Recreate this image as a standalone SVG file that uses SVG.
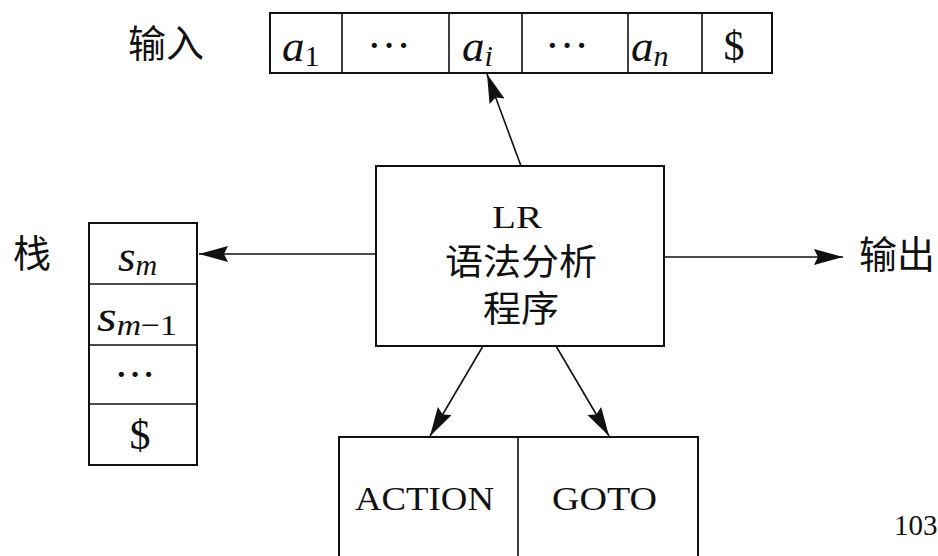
<svg xmlns="http://www.w3.org/2000/svg" width="938" height="556" viewBox="0 0 938 556">
<defs>
<style>
.box{fill:#fff;stroke:#111;stroke-width:2}
.div{stroke:#111;stroke-width:1.6;fill:none}
.edge{stroke:#111;stroke-width:1.6;fill:none}
.cjk{font-family:"Noto Sans CJK SC","Noto Sans CJK JP",sans-serif;font-size:38px;fill:#111}
.cjk2{font-family:"Noto Sans CJK SC","Noto Sans CJK JP",sans-serif;font-size:36px;fill:#111}
.rm{font-family:"Liberation Serif",serif;fill:#111}
.m{font-family:"Liberation Serif",serif;font-style:italic;font-size:45px;fill:#111}
.sub{font-size:30px}
.subr{font-size:30px;font-style:normal}
.dots{font-family:"Liberation Serif",serif;font-size:32px;font-weight:bold;fill:#111}
</style>
<marker id="ah" markerUnits="userSpaceOnUse" markerWidth="30" markerHeight="18" refX="29" refY="8" orient="auto">
<path d="M0,0 L29,8 L0,16 L4,8 z" fill="#111"/>
</marker>
</defs>
<rect width="938" height="556" fill="#fff"/>

<g id="input-label"><text class="cjk" x="128" y="57">输入</text></g>

<g id="tape">
<rect class="box" x="270" y="13" width="502" height="60"/>
<line class="div" x1="342" y1="13" x2="342" y2="73"/>
<line class="div" x1="449" y1="13" x2="449" y2="73"/>
<line class="div" x1="522" y1="13" x2="522" y2="73"/>
<line class="div" x1="628" y1="13" x2="628" y2="73"/>
<line class="div" x1="702" y1="13" x2="702" y2="73"/>
<text class="m" x="282" y="61">a<tspan class="subr" dy="5">1</tspan></text>
<text class="dots" x="389" y="56" text-anchor="middle" textLength="40" lengthAdjust="spacing">· · ·</text>
<text class="m" x="462" y="61">a<tspan class="sub" dy="5">i</tspan></text>
<text class="dots" x="567" y="56" text-anchor="middle" textLength="40" lengthAdjust="spacing">· · ·</text>
<text class="m" x="631" y="61">a<tspan class="sub" dy="5">n</tspan></text>
<text class="rm" x="734" y="60" font-size="42" text-anchor="middle">$</text>
</g>

<g id="stack-label"><text class="cjk" x="13" y="267">栈</text></g>

<g id="stack">
<rect class="box" x="89" y="223" width="108" height="242"/>
<line class="div" x1="89" y1="284" x2="197" y2="284"/>
<line class="div" x1="89" y1="345" x2="197" y2="345"/>
<line class="div" x1="89" y1="404" x2="197" y2="404"/>
<text class="m" x="118" y="271">s<tspan class="sub" dy="4">m</tspan></text>
<text class="m" x="97" y="331" textLength="80" lengthAdjust="spacingAndGlyphs">s<tspan class="sub" dy="4">m</tspan><tspan class="subr">−1</tspan></text>
<text class="dots" x="135" y="385" text-anchor="middle" textLength="38" lengthAdjust="spacing">· · ·</text>
<text class="rm" x="140" y="449" font-size="42" text-anchor="middle">$</text>
</g>

<g id="lr-parser">
<rect class="box" x="376" y="166" width="288" height="180"/>
<text class="rm" x="517" y="228" font-size="32" text-anchor="middle" textLength="50" lengthAdjust="spacingAndGlyphs">LR</text>
<text class="cjk2" x="521" y="275" text-anchor="middle" textLength="152" lengthAdjust="spacingAndGlyphs">语法分析</text>
<text class="cjk2" x="521" y="322" text-anchor="middle" textLength="76" lengthAdjust="spacingAndGlyphs">程序</text>
</g>

<g id="output-label"><text class="cjk" x="859" y="268">输出</text></g>

<g id="tables">
<path class="box" d="M339,556 L339,437 L698,437 L698,556"/>
<line class="div" x1="518" y1="437" x2="518" y2="556"/>
<text class="rm" x="424.5" y="510" font-size="33" text-anchor="middle" textLength="139" lengthAdjust="spacingAndGlyphs">ACTION</text>
<text class="rm" x="604.5" y="510" font-size="33" text-anchor="middle" textLength="105" lengthAdjust="spacingAndGlyphs">GOTO</text>
</g>

<g id="page-number"><text class="rm" x="894" y="535" font-size="29" fill="#333">103</text></g>

<g id="connectors">
<line class="edge" x1="521" y1="166" x2="487" y2="74" marker-end="url(#ah)"/>
<line class="edge" x1="376" y1="254" x2="199" y2="254" marker-end="url(#ah)"/>
<line class="edge" x1="664" y1="257" x2="843" y2="257" marker-end="url(#ah)"/>
<line class="edge" x1="483" y1="346" x2="430" y2="436" marker-end="url(#ah)"/>
<line class="edge" x1="556" y1="346" x2="609" y2="436" marker-end="url(#ah)"/>
</g>
</svg>
